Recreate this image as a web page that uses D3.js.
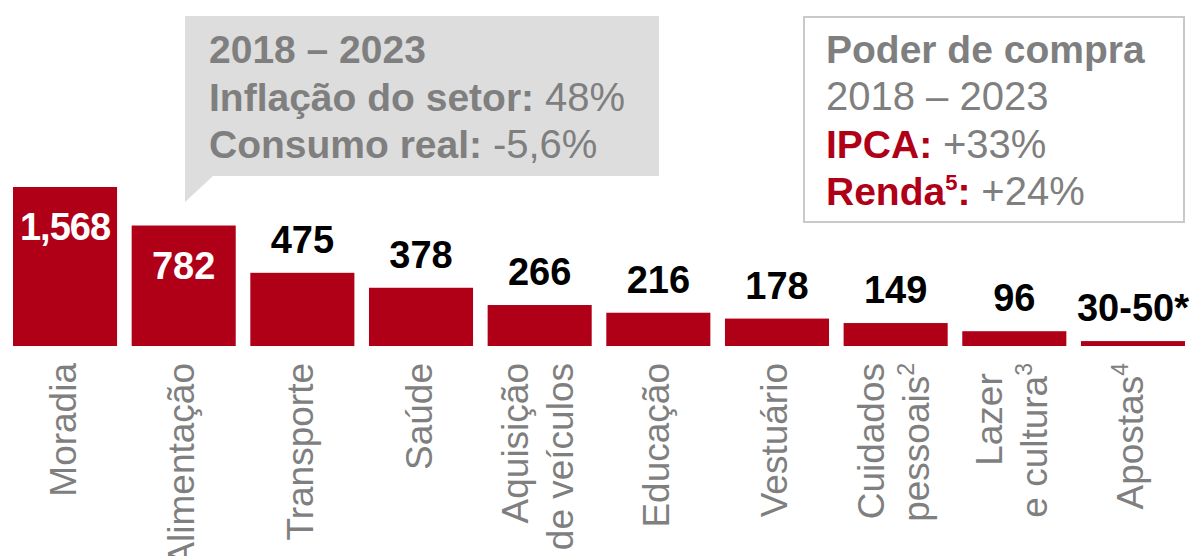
<!DOCTYPE html>
<html>
<head>
<meta charset="utf-8">
<script src="https://cdn.jsdelivr.net/npm/d3@7"></script>
<style>
  body { margin: 0; background: #fff; }
  svg { display: block; font-family: "Liberation Sans", Arial, Helvetica, sans-serif; }
</style>
</head>
<body>
<svg id="chart" width="1193" height="556"></svg>
<script>
// categories, values and labels
var categories = ["Moradia", "Alimentação", "Transporte", "Saúde", "Aquisição de veículos",
  "Educação", "Vestuário", "Cuidados pessoais", "Lazer e cultura", "Apostas"];
var labelLines = [["Moradia"], ["Alimentação"], ["Transporte"], ["Saúde"], ["Aquisição", "de veículos"],
  ["Educação"], ["Vestuário"], ["Cuidados", "pessoais"], ["Lazer\u00a0", "e cultura"], ["Apostas"]];
var footnotes = ["", "", "", "", "", "", "", "2", "3", "4"];
var values = [1568, 782, 475, 378, 266, 216, 178, 149, 96, 32];
var valueLabels = ["1,568", "782", "475", "378", "266", "216", "178", "149", "96", "30-50*"];
var insideLabel = [true, true, false, false, false, false, false, false, false, false];

var boxLines = [
  [{t: "2018 – 2023", b: true}],
  [{t: "Inflação do setor: ", b: true}, {t: "48%", b: false}],
  [{t: "Consumo real: ", b: true}, {t: "-5,6%", b: false}]
];
var legendLines = [
  [{t: "Poder de compra", b: true}],
  [{t: "2018 – 2023", b: false}],
  [{t: "IPCA: ", b: true, red: true}, {t: "+33%", b: false}],
  [{t: "Renda", b: true, red: true}, {t: "5", b: true, red: true, sup: true}, {t: ": ", b: true, red: true}, {t: "+24%", b: false}]
];

var red = "#b00018", grey = "#7f7f7f";
var svg = d3.select("#chart");

var x = d3.scaleBand()
    .domain(categories)
    .range([5.7, 1192.3])
    .paddingInner(0.123)
    .paddingOuter(0.0615);

// tall bar is cut off at the top
var y = d3.scaleLinear()
    .domain([0, 1032])
    .range([346, 187])
    .clamp(true);

svg.selectAll("rect.bar").data(categories).enter().append("rect")
    .attr("class", "bar")
    .attr("x", function(d){ return x(d); })
    .attr("y", function(d, i){ return y(values[i]); })
    .attr("width", x.bandwidth())
    .attr("height", function(d, i){ return y(0) - y(values[i]); })
    .attr("fill", red);

svg.selectAll("text.val").data(categories).enter().append("text")
    .attr("class", "val")
    .attr("x", function(d){ return x(d) + x.bandwidth() / 2; })
    .attr("y", function(d, i){ return insideLabel[i] ? y(values[i]) + 53 : y(values[i]) - 20; })
    .attr("text-anchor", "middle")
    .attr("font-size", 38)
    .attr("font-weight", "bold")
    .attr("letter-spacing", function(d, i){ return i == 0 ? -1 : 0; })
    .attr("fill", function(d, i){ return insideLabel[i] ? "#fff" : "#000"; })
    .text(function(d, i){ return valueLabels[i]; });

// rotated category labels
var lab = svg.selectAll("g.lab").data(categories).enter().append("g")
    .attr("class", "lab")
    .attr("transform", function(d, i){
      var n = labelLines[i].length;
      var cx = x(d) + x.bandwidth() / 2 + 10.5 - (n - 1) * 22.5;
      return "translate(" + cx + ",363) rotate(-90)";
    });

lab.each(function(d, i){
  var g = d3.select(this);
  labelLines[i].forEach(function(line, j){
    var t = g.append("text")
        .attr("x", 0)
        .attr("y", j * 45)
        .attr("text-anchor", "end")
        .attr("font-size", 37)
        .attr("fill", grey);
    t.append("tspan").text(line);
    if(j == labelLines[i].length - 1 && footnotes[i]){
      t.append("tspan").attr("font-size", 23).attr("dy", -15).text(footnotes[i]);
    }
  });
});

// grey callout
svg.append("path")
    .attr("d", "M185,16H659V176H213L185,202Z")
    .attr("fill", "#dddddd");

function writeLines(lines, x0, y0, step){
  lines.forEach(function(line, j){
    var t = svg.append("text")
        .attr("x", x0)
        .attr("y", y0 + j * step)
        .attr("fill", grey);
    line.forEach(function(part){
      var s = t.append("tspan")
          .attr("font-weight", part.b ? "bold" : "normal")
          .attr("font-size", part.b ? 39 : 40)
          .attr("fill", part.red ? red : grey)
          .text(part.t);
      if(part.sup){
        s.attr("font-size", 22).attr("dy", -15);
      }
    });
    // put baseline back after a superscript
    t.selectAll("tspan").each(function(p, k){
      if(k > 0 && line[k - 1].sup) d3.select(this).attr("dy", 15);
    });
  });
}

writeLines(boxLines, 209, 63, 47.5);

// purchasing power box
svg.append("rect")
    .attr("x", 804)
    .attr("y", 17)
    .attr("width", 380)
    .attr("height", 205)
    .attr("fill", "none")
    .attr("stroke", "#c9c9c9")
    .attr("stroke-width", 2);

writeLines(legendLines, 826, 63, 47.3);
</script>
</body>
</html>
